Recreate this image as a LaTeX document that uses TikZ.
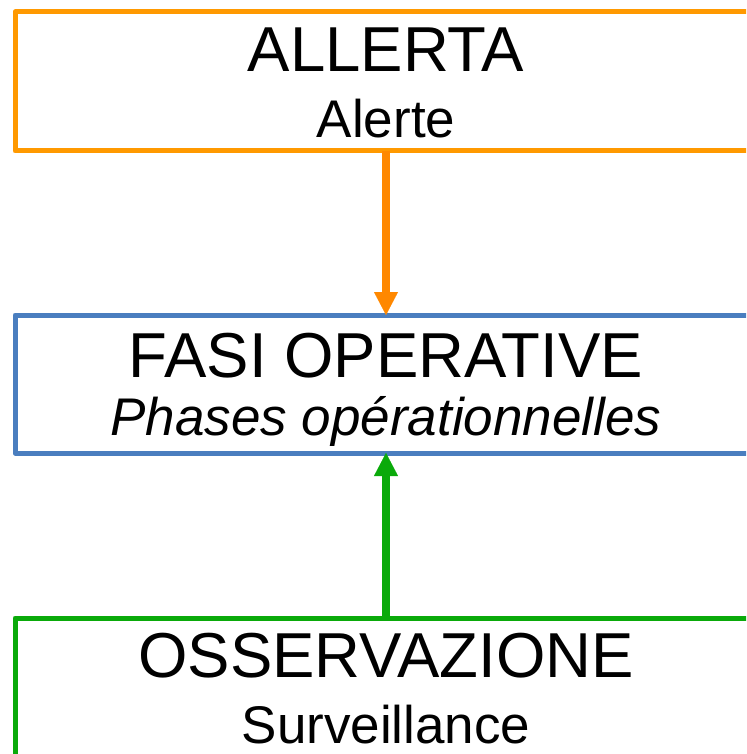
\documentclass[tikz,border=0pt]{standalone}
\usepackage{fontspec}
\setmainfont{Liberation Sans}
\usetikzlibrary{arrows.meta}
\definecolor{alertorange}{HTML}{FF9900}
\definecolor{arroworange}{HTML}{FF8800}
\definecolor{phaseblue}{HTML}{4A7EBF}
\definecolor{watchgreen}{HTML}{0AAA0A}
\tikzset{
	phasebox/.style={draw=#1, line width=5pt, line join=round, minimum width=742pt, minimum height=139pt, inner sep=0pt, outer sep=0pt},
	titletext/.style={anchor=base, inner sep=0pt, font=\fontsize{63.5}{63.5}\selectfont},
	subtext/.style={anchor=base, inner sep=0pt, font=\fontsize{53}{53}\selectfont},
	linkarrow/.style={draw=#1, line width=7.5pt, -{Triangle[width=24pt, length=23pt, line width=0.1pt]}}
}

\begin{document}
\begin{tikzpicture}[x=1pt, y=-1pt]
\useasboundingbox (0, 0) rectangle (746, 754);
\clip (0, 0) rectangle (746, 754);

\node[phasebox=alertorange] (allerta) at (386, 81.5) {};
\node[titletext] (allertaT) at ([yshift=-60pt]allerta.north) {ALLERTA};
\node[subtext] (allertaS) at ([yshift=-126pt]allerta.north) {Alerte};

\node[phasebox=phaseblue, minimum height=138pt] (fasi) at (386, 384) {};
\node[titletext] (fasiT) at ([yshift=-62pt]fasi.north) {FASI OPERATIVE};
\node[subtext] (fasiS) at ([yshift=-120pt]fasi.north) {\itshape Phases opérationnelles};

\node[phasebox=watchgreen] (osserv) at (386, 687.5) {};
\node[titletext] (osservT) at ([yshift=-59pt]osserv.north) {OSSERVAZIONE};
\node[subtext] (osservS) at ([yshift=-125pt]osserv.north) {Surveillance};

\draw[linkarrow=arroworange] (allerta.south) -- (fasi.north);
\draw[linkarrow=watchgreen] (osserv.north) -- (fasi.south);
\end{tikzpicture}
\end{document}
